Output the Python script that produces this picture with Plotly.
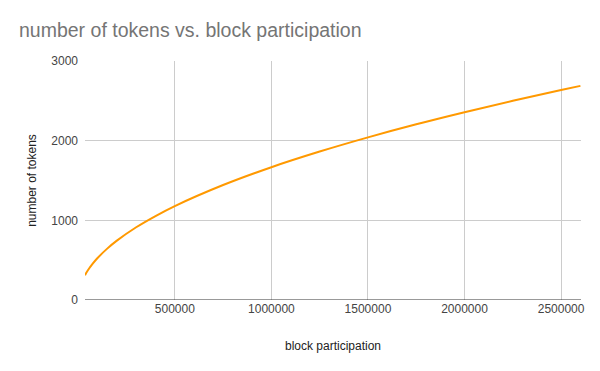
import plotly.graph_objects as go

block_participation = [35000, 50000, 75000, 100000, 150000, 200000, 300000, 400000, 500000,
                       750000, 1000000, 1250000, 1500000, 1750000, 2000000, 2250000, 2500000, 2600000]
number_of_tokens = [312, 373, 456, 527, 645, 745, 913, 1054, 1179,
                    1443, 1667, 1863, 2041, 2205, 2357, 2500, 2635, 2688]

x_ticks = [500000, 1000000, 1500000, 2000000, 2500000]
y_ticks = [0, 1000, 2000, 3000]

# the page body has an 8px margin; compensate so the chart lands where the reference has it
W, H = 592, 363

fig = go.Figure()
fig.add_trace(go.Scatter(
    x=block_participation, y=number_of_tokens, mode="lines",
    line=dict(color="#FF9900", width=2, shape="spline"),
    hoverinfo="x+y", showlegend=False,
))

fig.update_layout(
    width=W, height=H,
    paper_bgcolor="white", plot_bgcolor="white",
    margin=dict(l=77, r=19, t=53, b=71),
    font=dict(family="Liberation Sans, Arial, sans-serif", size=12, color="#222222"),
    title=dict(text="number of tokens vs. block participation",
               x=11 / W, xanchor="left", y=1 - 22 / H, yanchor="middle",
               font=dict(size=19.5, color="#757575")),
)
fig.update_xaxes(
    range=[35000, 2603000], tickvals=x_ticks, ticktext=[str(v) for v in x_ticks],
    showgrid=True, gridcolor="#cccccc", gridwidth=1, zeroline=False,
    showline=False, ticks="", tickfont=dict(size=12, color="#444444"),
    title=dict(text="block participation", font=dict(size=12, color="#222222"), standoff=26),
)
fig.update_yaxes(
    range=[0, 3000], tickvals=y_ticks, ticktext=[str(v) for v in y_ticks],
    showgrid=True, gridcolor="#cccccc", gridwidth=1, zeroline=False,
    showline=False, ticks="", tickfont=dict(size=12, color="#444444"), ticklabelstandoff=6,
    title=dict(text="number of tokens", font=dict(size=12, color="#222222"), standoff=12),
)
fig.add_shape(type="line", xref="paper", yref="y", x0=0, x1=1, y0=0, y1=0,
              line=dict(color="#333333", width=1))

fig.write_html("out.html")
